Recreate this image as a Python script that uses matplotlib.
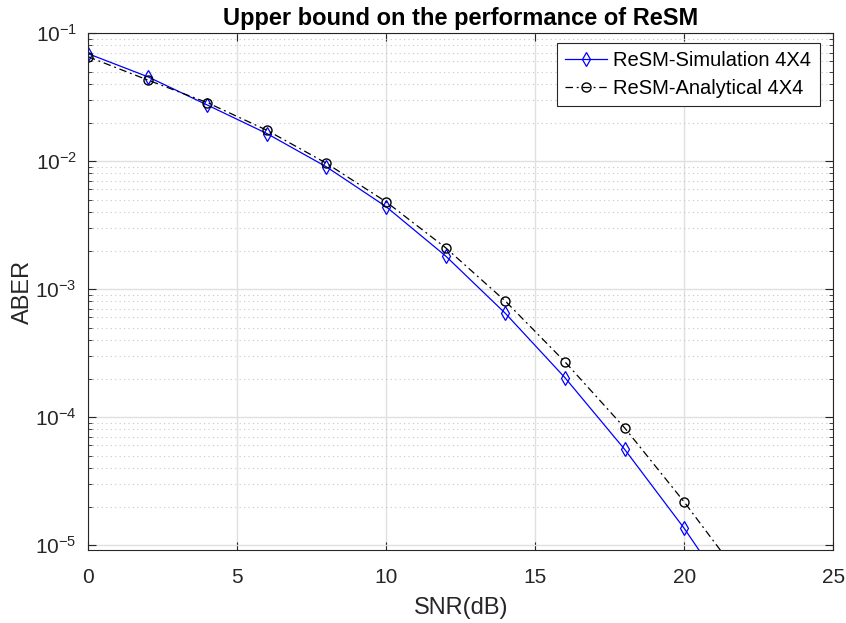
import numpy as np
import matplotlib
matplotlib.use("Agg")
import matplotlib.pyplot as plt
from matplotlib.ticker import LogLocator, NullFormatter, FixedLocator

plt.rcParams['font.family'] = ['Liberation Sans', 'DejaVu Sans']
plt.rcParams['mathtext.fontset'] = 'custom'
plt.rcParams['mathtext.rm'] = 'Liberation Sans'
plt.rcParams['mathtext.it'] = 'Liberation Sans:italic'

# SNR points (dB); the last point lies below the visible range
snr_db = [0, 2, 4, 6, 8, 10, 12, 14, 16, 18, 20, 22]

# ABER
aber_sim = [6.9e-2, 4.56e-2, 2.74e-2, 1.64e-2, 9.0e-3, 4.4e-3, 1.81e-3,
            6.46e-4, 2.03e-4, 5.6e-5, 1.35e-5, 2.8e-6]
aber_ana = [6.53e-2, 4.3e-2, 2.86e-2, 1.74e-2, 9.6e-3, 4.8e-3, 2.1e-3,
            8.05e-4, 2.7e-4, 8.24e-5, 2.17e-5, 5.2e-6]

x_ticks = [0, 5, 10, 15, 20, 25]
y_ticks = [1e-5, 1e-4, 1e-3, 1e-2, 1e-1]
y_ticklabels = [r'$10^{-5}$', r'$10^{-4}$', r'$10^{-3}$', r'$10^{-2}$', r'$10^{-1}$']

fig = plt.figure(figsize=(8.46, 6.23), dpi=100)
ax = fig.add_axes([0.104, 0.117, 0.881, 0.830])

ax.semilogy(snr_db, aber_sim, color=(0, 0, 1), lw=0.9, marker='d',
            markersize=7, markerfacecolor='none', markeredgewidth=0.9,
            label='ReSM-Simulation 4X4')
ax.semilogy(snr_db, aber_ana, color='k', lw=0.9, ls=(0, (6, 3, 1.5, 3)),
            marker='o', markersize=6.5, markerfacecolor='none',
            markeredgewidth=1.0, label='ReSM-Analytical 4X4')

ax.set_xlim(0, 25)
ax.set_ylim(10 ** -5.039, 0.1)

ax.xaxis.set_major_locator(FixedLocator(x_ticks))
ax.set_yticks(y_ticks)
ax.set_yticklabels(y_ticklabels)
ax.yaxis.set_minor_locator(LogLocator(base=10, subs=np.arange(2, 10), numticks=20))
ax.yaxis.set_minor_formatter(NullFormatter())

ax.grid(True, which='major', color='#e0e0e0', lw=1.0, ls='-')
ax.grid(True, which='minor', axis='y', color='#c8c8c8', lw=0.8, ls=(0, (1, 3)))
ax.set_axisbelow(True)

ax.tick_params(which='both', direction='in', top=True, right=True,
               colors='#262626', labelcolor='#262626', labelsize=15)
ax.tick_params(which='major', length=6, width=0.8)
ax.tick_params(which='minor', length=3, width=0.6)
ax.tick_params(axis='x', pad=13)
ax.tick_params(axis='y', pad=8)
for sp in ax.spines.values():
    sp.set_color('#262626')
    sp.set_linewidth(0.8)

ax.set_xlabel('SNR(dB)', fontsize=17, color='#262626', labelpad=7)
ax.set_ylabel('ABER', fontsize=17, color='#262626')
ax.yaxis.set_label_coords(-0.073, 0.5)
ax.set_title('Upper bound on the performance of ReSM', fontsize=17,
             fontweight='bold', pad=6)

leg = ax.legend(loc='upper right', fontsize=14.5, fancybox=False,
                edgecolor='#262626', framealpha=1, borderpad=0.4,
                handlelength=2.1, handletextpad=0.3, labelspacing=0.42,
                borderaxespad=0, bbox_to_anchor=(0.9815, 0.98))
leg.get_frame().set_linewidth(0.8)

fig.savefig('out.png', dpi=100)
